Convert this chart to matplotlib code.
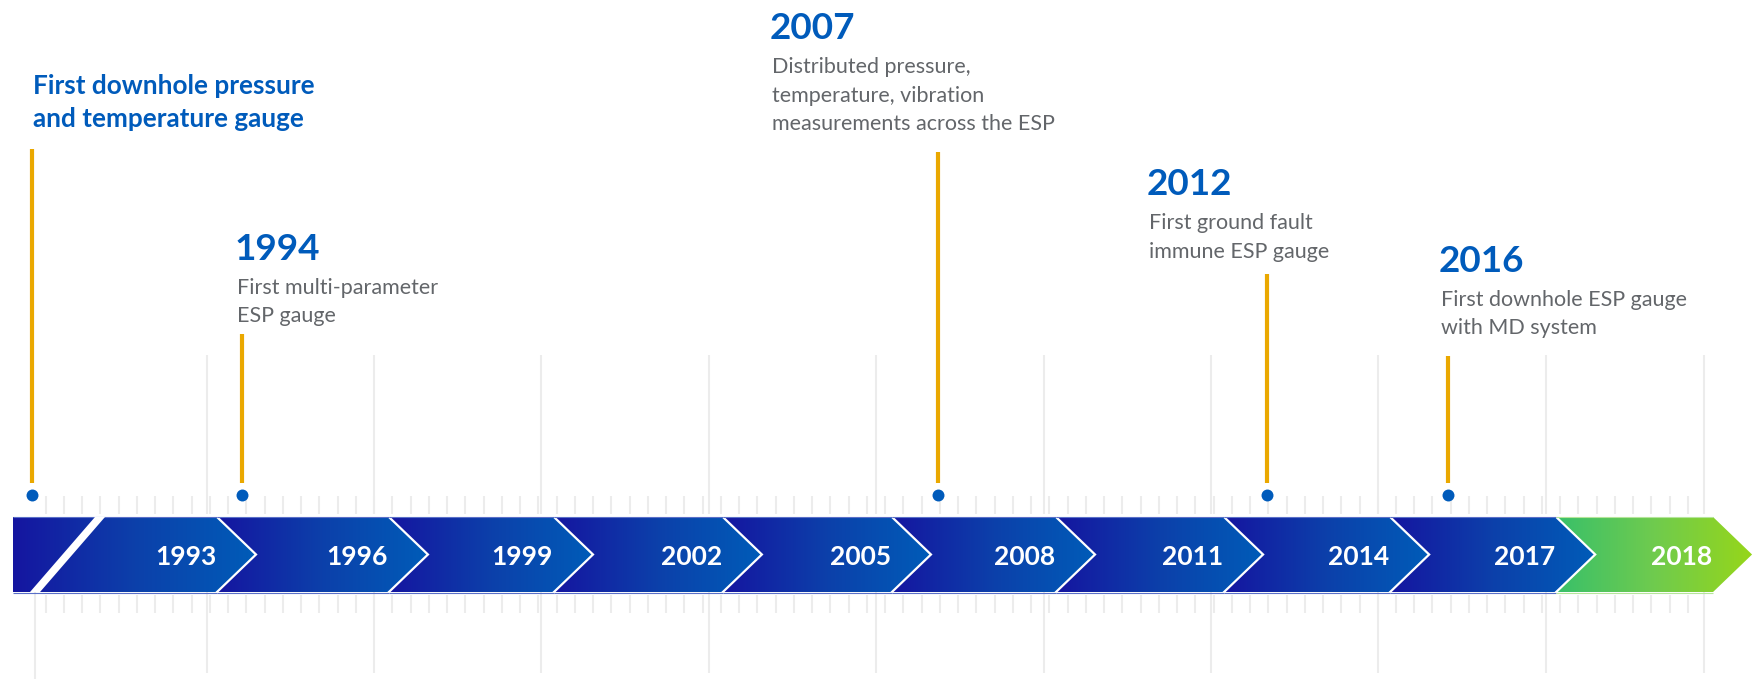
import numpy as np
import matplotlib
matplotlib.use("Agg")
import matplotlib.pyplot as plt
from matplotlib.patches import Polygon
from matplotlib.colors import LinearSegmentedColormap


# banner segments, left to right
banner_years = ["1993", "1996", "1999", "2002", "2005", "2008", "2011", "2014", "2017", "2018"]

# milestones: position on the ruler (segment units), heading, description, stem height (px)
event_pos = [-0.338, 0.916, 5.074, 7.039, 8.121]
event_years = [None, "1994", "2007", "2012", "2016"]
event_text = [
    "First downhole pressure\nand temperature gauge",
    "First multi-parameter\nESP gauge",
    "Distributed pressure,\ntemperature, vibration\nmeasurements across the ESP",
    "First ground fault\nimmune ESP gauge",
    "First downhole ESP gauge\nwith MD system",
]
stem_height = [346, 161, 343, 221, 139]

# label anchors: left edge and heading baseline
label_x = [-0.332, 0.886, 4.082, 6.335, 8.079]
label_y = [401, 235, 456, 300, 223]

BLUE = "#005bbb"
GREY = "#63666a"
GOLD = "#eaa800"
TICK = "#ececec"
FONT = "Lato"

PX = 1 / 167.4          # one pixel in segment units
DEPTH = 39 * PX         # chevron depth
LEFT = -0.452           # left end of the banner
TOP, BOT = -22, -97     # banner edges
MID = (TOP + BOT) / 2
# chevron tips along the banner
tips = [1.0, 2.027, 3.013, 4.022, 5.032, 6.012, 7.016, 8.008, 9.0, 9.937]


def grad_fill(ax, verts, colors):
    poly = Polygon(verts, closed=True, facecolor="none", edgecolor="none")
    ax.add_patch(poly)
    xs = [v[0] for v in verts]
    ys = [v[1] for v in verts]
    cmap = LinearSegmentedColormap.from_list("seg", colors)
    img = ax.imshow(np.linspace(0, 1, 256)[None, :], cmap=cmap, aspect="auto",
                    extent=(min(xs), max(xs), min(ys), max(ys)), origin="lower",
                    interpolation="bilinear", zorder=3)
    img.set_clip_path(poly)


fig = plt.figure(figsize=(17.62, 6.79), dpi=100)
ax = fig.add_axes([0, 0, 1, 1])
ax.axis("off")

# ruler: short ticks above and below the banner, long guide lines
minor = -0.256 + 0.109 * np.arange(91)
ax.vlines(minor, -1, -19, color=TICK, lw=1.5, zorder=1)
ax.vlines(minor, -100, -118, color=TICK, lw=1.5, zorder=1)
major = list(np.arange(9) + 0.705) + [9.65]
ax.vlines(major, 140, -19, color=TICK, lw=1.5, zorder=1)
ax.vlines(major, -97, -178, color=TICK, lw=1.5, zorder=1)
ax.vlines(-0.32, -97, -184, color=TICK, lw=1.5, zorder=1)

# banner chevrons
for i, year in enumerate(banner_years):
    t = tips[i]
    left = LEFT if i == 0 else tips[i - 1] - DEPTH
    if i == 0:
        verts = [(LEFT, TOP), (t - DEPTH, TOP), (t, MID), (t - DEPTH, BOT), (LEFT, BOT)]
    else:
        p = tips[i - 1]
        verts = [(p - DEPTH, TOP), (t - DEPTH, TOP), (t, MID), (t - DEPTH, BOT),
                 (p - DEPTH, BOT), (p, MID)]
    if i == len(banner_years) - 1:
        grad_fill(ax, verts, ["#38c06a", "#6fcb4e", "#96d61a"])
        edge = "#b5e59a"
    else:
        grad_fill(ax, verts, ["#1515a0", "#0c40aa", "#005cb8"])
        edge = "#5a6fc8"
        ax.plot([t - DEPTH, t, t - DEPTH], [TOP, MID, BOT], color="white", lw=1.6,
                solid_joinstyle="miter", zorder=4)
    ax.hlines([TOP + 0.5, BOT - 0.5], left, t - DEPTH, color=edge, lw=0.8, zorder=4)
    ax.text(t - 40 * PX, -70, year, ha="right", va="baseline", color="white",
            fontsize=19, fontweight="bold", family=FONT, zorder=5)

# slanted break near the start of the banner
ax.add_patch(Polygon([(0.068 - 5 * PX, TOP), (0.068 + 5 * PX, TOP),
                      (-0.320 + 5 * PX, BOT), (-0.320 - 5 * PX, BOT)],
                     closed=True, facecolor="white", edgecolor="none", zorder=4))

# milestones
for i in range(len(event_pos)):
    x = event_pos[i]
    ax.vlines(x, 12, stem_height[i], color=GOLD, lw=3, zorder=2)
    ax.plot(x, 0, "o", color=BLUE, ms=8.6, mec="none", zorder=6)
    lines = event_text[i].split("\n")
    if event_years[i] is None:
        for j, line in enumerate(lines):
            ax.text(label_x[i], label_y[i] - 33 * j, line, ha="left", va="baseline",
                    color=BLUE, fontsize=18.8, fontweight="bold", family=FONT)
    else:
        ax.text(label_x[i] - 2 * PX, label_y[i], event_years[i], ha="left", va="baseline",
                color=BLUE, fontsize=26.6, fontweight="bold", family=FONT)
        for j, line in enumerate(lines):
            ax.text(label_x[i], label_y[i] - 34 - 28.5 * j, line, ha="left",
                    va="baseline", color=GREY, fontsize=15.5, family=FONT)

ax.set_xlim(-0.5293, 9.9964)
ax.set_ylim(-184, 495)
fig.savefig("out.png", dpi=100, facecolor="white")
